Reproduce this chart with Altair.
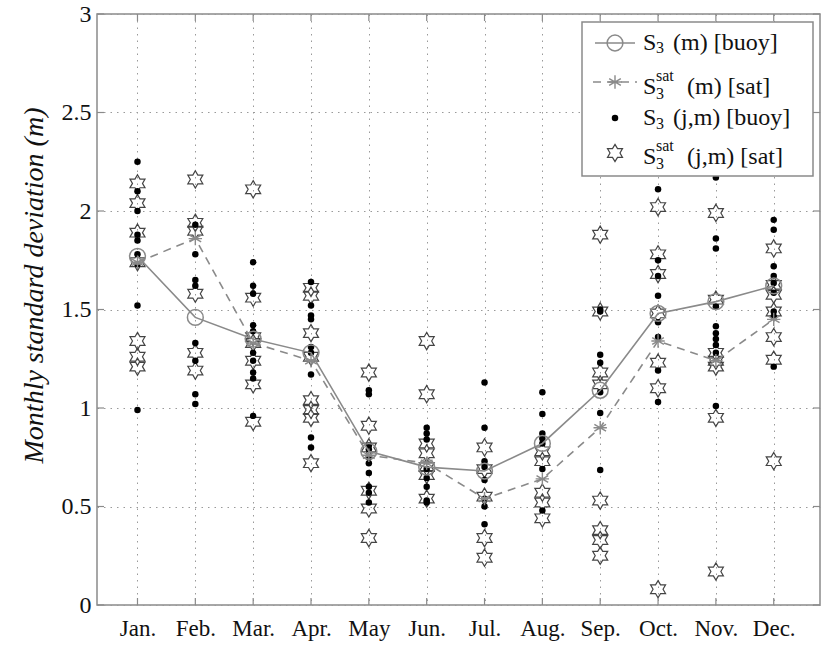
import altair as alt
import pandas as pd

# ---------------- data ----------------
month_labels = ["Jan.", "Feb.", "Mar.", "Apr.", "May", "Jun.",
                "Jul.", "Aug.", "Sep.", "Oct.", "Nov.", "Dec."]
months = list(range(1, 13))

buoy_mean = [1.77, 1.46, 1.35, 1.28, 0.78, 0.70, 0.68, 0.82, 1.09, 1.48, 1.54, 1.62]
sat_mean = [1.74, 1.86, 1.33, 1.24, 0.76, 0.72, 0.54, 0.64, 0.90, 1.34, 1.24, 1.45]

buoy_pts = [
    [2.25, 2.10, 2.00, 1.88, 1.85, 1.78, 1.73, 1.52, 0.99],
    [1.93, 1.78, 1.65, 1.62, 1.33, 1.24, 1.07, 1.02],
    [1.74, 1.62, 1.58, 1.42, 1.39, 1.28, 1.24, 1.18, 1.15, 0.96],
    [1.64, 1.52, 1.47, 1.45, 1.31, 1.28, 1.17, 0.85, 0.80],
    [1.09, 1.07, 0.81, 0.79, 0.75, 0.72, 0.67, 0.60, 0.57, 0.52],
    [0.90, 0.87, 0.84, 0.69, 0.645, 0.60, 0.53, 0.52],
    [1.13, 0.90, 0.73, 0.70, 0.635, 0.54, 0.50, 0.41],
    [1.08, 0.97, 0.87, 0.845, 0.82, 0.69, 0.48],
    [1.50, 1.49, 1.27, 1.23, 1.08, 0.975, 0.685],
    [2.11, 1.75, 1.67, 1.57, 1.435, 1.36, 1.19, 1.03],
    [2.17, 1.86, 1.81, 1.515, 1.415, 1.38, 1.35, 1.32, 1.28, 1.01],
    [1.955, 1.905, 1.72, 1.67, 1.635, 1.585, 1.49, 1.465, 1.21],
]

sat_pts = [
    [2.14, 2.04, 1.89, 1.74, 1.34, 1.26, 1.21],
    [2.16, 1.94, 1.90, 1.58, 1.28, 1.19],
    [2.11, 1.56, 1.36, 1.33, 1.24, 1.12, 0.93],
    [1.61, 1.57, 1.38, 1.26, 1.04, 0.99, 0.95, 0.72],
    [1.18, 0.91, 0.80, 0.58, 0.49, 0.34],
    [1.34, 1.07, 0.82, 0.77, 0.70, 0.66, 0.54],
    [0.80, 0.69, 0.55, 0.34, 0.24],
    [0.78, 0.73, 0.57, 0.52, 0.44],
    [1.88, 1.49, 1.18, 1.12, 0.53, 0.38, 0.33, 0.25],
    [2.02, 1.78, 1.68, 1.48, 1.23, 1.10, 0.08],
    [1.99, 1.55, 1.28, 1.24, 1.21, 0.95, 0.17],
    [1.81, 1.625, 1.575, 1.49, 1.36, 1.245, 0.73],
]

y_ticks = [0, 0.5, 1, 1.5, 2, 2.5, 3]

# ---------------- tables ----------------
df_bm = pd.DataFrame({"month": months, "value": buoy_mean})
df_sm = pd.DataFrame({"month": months, "value": sat_mean})
df_b = pd.DataFrame([{"month": m, "value": v} for m, vs in zip(months, buoy_pts) for v in vs])
df_s = pd.DataFrame([{"month": m, "value": v} for m, vs in zip(months, sat_pts) for v in vs])
df_xt = pd.DataFrame({"month": months})
df_yt = pd.DataFrame({"value": y_ticks})
one = pd.DataFrame({"k": [0]})

# ---------------- style ----------------
FONT = "Liberation Serif, Times New Roman, DejaVu Serif, serif"
GRAY = "#8a8a8a"
W, H = 723, 591

HEX = ("M0,-1L0.289,-0.5L0.866,-0.5L0.577,0L0.866,0.5L0.289,0.5L0,1"
       "L-0.289,0.5L-0.866,0.5L-0.577,0L-0.866,-0.5L-0.289,-0.5Z")
ASTER = "M0,-1L0,1M-0.87,-0.5L0.87,0.5M-0.87,0.5L0.87,-0.5M-1,0L1,0"

label_expr = "[" + ",".join("'%s'" % s for s in month_labels) + "][datum.value - 1]"

xaxis = alt.Axis(values=months, labelExpr=label_expr, title=None,
                 grid=True, gridDash=[1.5, 5], gridColor="#9a9a9a", gridWidth=1,
                 domain=False, ticks=False, labelFont=FONT, labelFontSize=23,
                 labelColor="#111", labelPadding=12)
yaxis = alt.Axis(values=y_ticks, format="~g", title="Monthly standard deviation  (m)",
                 grid=True, gridDash=[1.5, 5], gridColor="#9a9a9a", gridWidth=1,
                 domain=False, ticks=False, labelFont=FONT, labelFontSize=24,
                 labelColor="#111", labelPadding=6,
                 titleFont=FONT, titleFontSize=28, titleFontStyle="italic",
                 titleFontWeight="normal", titleColor="#111",
                 titleX=-55, titleY=271, titleAngle=-90, titleAlign="center",
                 titleBaseline="alphabetic")

X = alt.X("month:Q", scale=alt.Scale(domain=[0.3, 12.8], nice=False, zero=False), axis=xaxis)
Y = alt.Y("value:Q", scale=alt.Scale(domain=[0, 3], nice=False), axis=yaxis)

# ---------------- layers ----------------
stars = alt.Chart(df_s).mark_point(shape=HEX, size=300, filled=False, stroke="#444",
                                   strokeWidth=1.2, opacity=1).encode(x=X, y=Y)
dots = alt.Chart(df_b).mark_circle(size=42, color="black", opacity=1).encode(x=X, y=Y)
bline = alt.Chart(df_bm).mark_line(color=GRAY, strokeWidth=1.6).encode(x=X, y=Y)
bsym = alt.Chart(df_bm).mark_point(shape="circle", size=250, filled=False, stroke=GRAY,
                                   strokeWidth=1.5, opacity=1).encode(x=X, y=Y)
sline = alt.Chart(df_sm).mark_line(color=GRAY, strokeWidth=1.6, strokeDash=[8, 6]).encode(x=X, y=Y)
ssym = alt.Chart(df_sm).mark_point(shape=ASTER, size=180, filled=False, stroke=GRAY,
                                   strokeWidth=1.4, opacity=1).encode(x=X, y=Y)

tick_b = alt.Chart(df_xt).mark_rule(color=GRAY, strokeWidth=1.2).encode(
    x=X, y=alt.value(H), y2=alt.value(H - 7))
tick_t = alt.Chart(df_xt).mark_rule(color=GRAY, strokeWidth=1.2).encode(
    x=X, y=alt.value(0), y2=alt.value(7))
tick_l = alt.Chart(df_yt).mark_rule(color=GRAY, strokeWidth=1.2).encode(
    y=Y, x=alt.value(0), x2=alt.value(7))
tick_r = alt.Chart(df_yt).mark_rule(color=GRAY, strokeWidth=1.2).encode(
    y=Y, x=alt.value(W), x2=alt.value(W - 7))

# ---------------- legend (manual, to get S_3^sat typesetting) ----------------
legend_layers = [
    alt.Chart(one).mark_rect(fill="white", stroke=GRAY, strokeWidth=1.5).encode(
        x=alt.value(485), x2=alt.value(716), y=alt.value(8), y2=alt.value(162))
]
entries = [
    dict(sym="bm", sy=29, ty=29, sub=34, sup=None, rest="(m) [buoy]", rx=576),
    dict(sym="sm", sy=68, ty=73, sub=80, sup=62, rest="(m) [sat]", rx=590),
    dict(sym="b", sy=104, ty=104, sub=110, sup=None, rest="(j,m) [buoy]", rx=576),
    dict(sym="s", sy=139, ty=143, sub=150, sup=132, rest="(j,m) [sat]", rx=590),
]
for e in entries:
    sx, sy = 518, e["sy"]
    if e["sym"] == "bm":
        legend_layers.append(alt.Chart(one).mark_rule(color=GRAY, strokeWidth=1.6).encode(
            x=alt.value(498), x2=alt.value(538), y=alt.value(sy)))
        legend_layers.append(alt.Chart(one).mark_point(shape="circle", size=250, filled=False,
                             stroke=GRAY, strokeWidth=1.5, opacity=1).encode(
            x=alt.value(sx), y=alt.value(sy)))
    elif e["sym"] == "sm":
        legend_layers.append(alt.Chart(one).mark_rule(color=GRAY, strokeWidth=1.6,
                             strokeDash=[8, 6]).encode(
            x=alt.value(496), x2=alt.value(540), y=alt.value(sy)))
        legend_layers.append(alt.Chart(one).mark_point(shape=ASTER, size=180, filled=False,
                             stroke=GRAY, strokeWidth=1.4, opacity=1).encode(
            x=alt.value(sx), y=alt.value(sy)))
    elif e["sym"] == "b":
        legend_layers.append(alt.Chart(one).mark_circle(size=42, color="black", opacity=1).encode(
            x=alt.value(sx), y=alt.value(sy)))
    else:
        legend_layers.append(alt.Chart(one).mark_point(shape=HEX, size=300, filled=False,
                             stroke="#444", strokeWidth=1.2, opacity=1).encode(
            x=alt.value(sx), y=alt.value(sy)))
    legend_layers.append(alt.Chart(one).mark_text(text="S", align="left", baseline="middle",
                         font=FONT, fontSize=24, color="#111").encode(
        x=alt.value(546), y=alt.value(e["ty"])))
    legend_layers.append(alt.Chart(one).mark_text(text="3", align="left", baseline="middle",
                         font=FONT, fontSize=16, color="#111").encode(
        x=alt.value(559), y=alt.value(e["sub"])))
    if e["sup"] is not None:
        legend_layers.append(alt.Chart(one).mark_text(text="sat", align="left", baseline="middle",
                             font=FONT, fontSize=16, color="#111").encode(
            x=alt.value(559), y=alt.value(e["sup"])))
    legend_layers.append(alt.Chart(one).mark_text(text=e["rest"], align="left", baseline="middle",
                         font=FONT, fontSize=24, color="#111").encode(
        x=alt.value(e["rx"]), y=alt.value(e["ty"])))

chart = alt.layer(
    stars, dots, bline, bsym, sline, ssym, tick_b, tick_t, tick_l, tick_r, *legend_layers
).properties(
    width=W, height=H, autosize="none",
    padding={"left": 97, "top": 14, "right": 7, "bottom": 43},
    background="white",
).configure_view(stroke=GRAY, strokeWidth=1.5)

chart.save("out.html", embed_options={"renderer": "svg", "actions": False})
